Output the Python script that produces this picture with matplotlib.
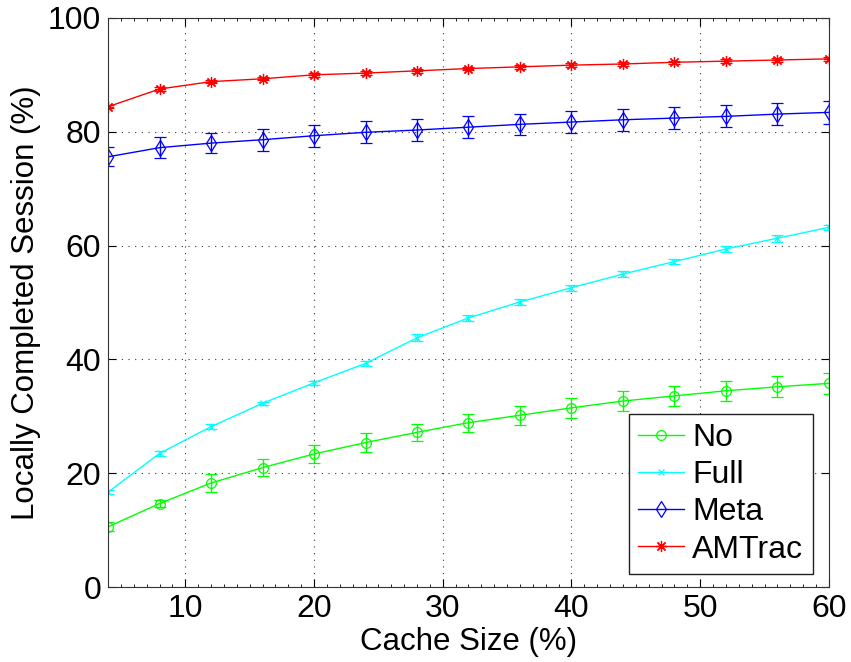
import matplotlib

matplotlib.use("Agg")

import matplotlib.pyplot as plt  # noqa: E402
from matplotlib.ticker import MultipleLocator  # noqa: E402

plt.rcParams["font.family"] = ["Liberation Sans", "DejaVu Sans"]

cache_size = [4, 8, 12, 16, 20, 24, 28, 32, 36, 40, 44, 48, 52, 56, 60]

no_mean = [10.6, 14.7, 18.3, 21.0, 23.4, 25.4, 27.2, 28.9, 30.2, 31.5, 32.7, 33.6, 34.5, 35.2, 35.8]
no_err = [0.8, 0.7, 1.5, 1.5, 1.55, 1.6, 1.55, 1.6, 1.65, 1.7, 1.75, 1.8, 1.8, 1.85, 1.9]

full_mean = [16.7, 23.5, 28.2, 32.3, 35.9, 39.3, 43.8, 47.3, 50.1, 52.6, 55.0, 57.2, 59.4, 61.3, 63.2]
full_err = [0.4, 0.5, 0.4, 0.3, 0.3, 0.4, 0.6, 0.5, 0.5, 0.5, 0.5, 0.5, 0.5, 0.6, 0.4]

meta_mean = [75.6, 77.2, 78.0, 78.6, 79.3, 79.9, 80.3, 80.8, 81.3, 81.7, 82.1, 82.4, 82.7, 83.1, 83.4]
meta_err = [1.7, 1.85, 1.8, 1.9, 1.9, 1.9, 1.85, 1.9, 1.9, 1.9, 1.95, 1.95, 1.95, 2.0, 2.0]

amtrac_mean = [84.4, 87.5, 88.8, 89.3, 90.0, 90.3, 90.7, 91.1, 91.4, 91.7, 91.9, 92.2, 92.4, 92.6, 92.8]
amtrac_err = [0.3, 0.3, 0.3, 0.3, 0.3, 0.3, 0.3, 0.3, 0.3, 0.3, 0.3, 0.3, 0.3, 0.3, 0.3]

fig = plt.figure(figsize=(8.51, 6.62), dpi=100)
ax = fig.add_axes([0.127, 0.113, 0.847, 0.86])

series = [
    ("No", no_mean, no_err, "#00ff00", "o", 7),
    ("Full", full_mean, full_err, "#00ffff", "x", 4.5),
    ("Meta", meta_mean, meta_err, "#0000ff", "d", 8),
    ("AMTrac", amtrac_mean, amtrac_err, "#ff0000", (8, 2, 0), 8),
]
handles = []
for label, mean, err, color, marker, ms in series:
    cont = ax.errorbar(
        cache_size,
        mean,
        yerr=err,
        color=color,
        marker=marker,
        markersize=ms,
        markerfacecolor="none",
        markeredgecolor=color,
        markeredgewidth=0.9,
        linewidth=1.0,
        elinewidth=1.0,
        capsize=4.5,
        capthick=1.0,
        label=label,
    )
    handles.append(cont[0])

ax.set_xlim(4, 60)
ax.set_ylim(0, 100)
ax.set_xticks([10, 20, 30, 40, 50, 60])
ax.set_yticks([0, 20, 40, 60, 80, 100])
ax.xaxis.set_minor_locator(MultipleLocator(1))
ax.tick_params(axis="both", which="major", direction="in", length=6, labelsize=23, pad=5, top=True, right=True)
ax.tick_params(axis="x", which="minor", direction="in", length=2.5, top=True)
ax.grid(True, which="major", linestyle=(0, (1, 5)), color="#333333", linewidth=0.8)
for spine in ax.spines.values():
    spine.set_linewidth(0.8)
    spine.set_color("#333333")

ax.set_xlabel("Cache Size (%)", fontsize=22.5, labelpad=2)
ax.set_ylabel("Locally Completed Session (%)", fontsize=22.5, labelpad=5)

leg = ax.legend(
    handles,
    [s[0] for s in series],
    loc="lower right",
    bbox_to_anchor=(0.978, 0.023),
    fontsize=23,
    fancybox=False,
    framealpha=1,
    edgecolor="#222222",
    handlelength=1.45,
    handletextpad=0.25,
    labelspacing=0.22,
    borderpad=0.3,
    borderaxespad=0,
)
leg.get_frame().set_linewidth(1.0)

fig.savefig("out.png", dpi=100)
